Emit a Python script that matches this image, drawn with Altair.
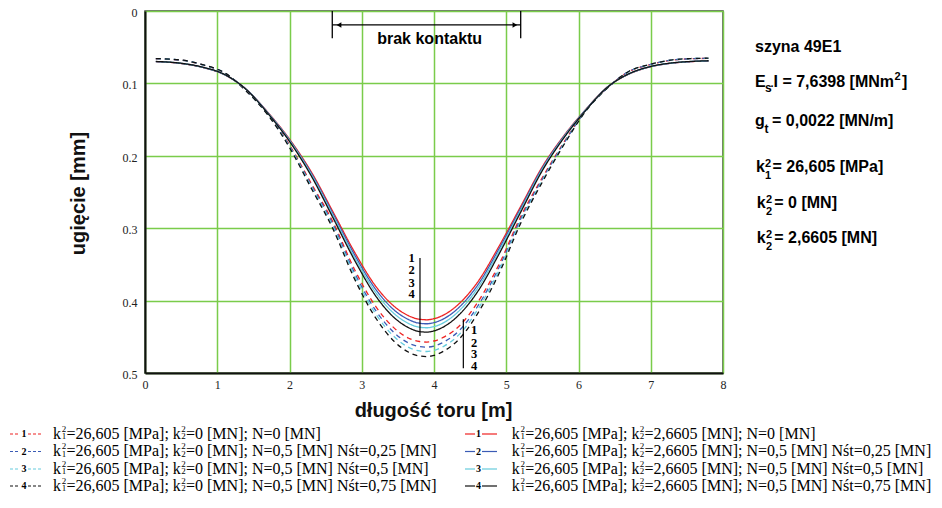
import altair as alt
import pandas as pd

# ---------------- data ----------------
x_pos = [0.15, 0.5, 0.8, 1.1, 1.4, 1.7, 2.0, 2.3, 2.6, 2.9, 3.2, 3.45, 3.65, 3.8, 3.9,
         4.0, 4.15, 4.35, 4.6, 4.9, 5.2, 5.5, 5.8, 6.1, 6.4, 6.7, 7.0, 7.3, 7.55, 7.8]

solid_1 = [0.0700, 0.0725, 0.0780, 0.0880, 0.1080, 0.1400, 0.1770, 0.2220, 0.2770, 0.3330, 0.3810, 0.4080, 0.4210, 0.4258, 0.4265,
           0.4250, 0.4190, 0.4040, 0.3750, 0.3250, 0.2700, 0.2150, 0.1720, 0.1360, 0.1050, 0.0870, 0.0770, 0.0720, 0.0700, 0.0690]
solid_2 = [0.0699, 0.0724, 0.0779, 0.0879, 0.1081, 0.1404, 0.1780, 0.2238, 0.2796, 0.3366, 0.3854, 0.4131, 0.4263, 0.4313, 0.4320,
           0.4304, 0.4243, 0.4090, 0.3793, 0.3285, 0.2725, 0.2167, 0.1729, 0.1364, 0.1051, 0.0869, 0.0769, 0.0719, 0.0699, 0.0689]
solid_3 = [0.0698, 0.0723, 0.0778, 0.0878, 0.1082, 0.1409, 0.1790, 0.2256, 0.2823, 0.3402, 0.3898, 0.4181, 0.4317, 0.4368, 0.4375,
           0.4359, 0.4296, 0.4139, 0.3836, 0.3319, 0.2751, 0.2184, 0.1739, 0.1368, 0.1052, 0.0868, 0.0768, 0.0718, 0.0698, 0.0688]
solid_4 = [0.0697, 0.0722, 0.0776, 0.0876, 0.1083, 0.1414, 0.1801, 0.2276, 0.2852, 0.3441, 0.3946, 0.4236, 0.4375, 0.4428, 0.4435,
           0.4418, 0.4353, 0.4193, 0.3883, 0.3357, 0.2778, 0.2203, 0.1749, 0.1372, 0.1053, 0.0866, 0.0766, 0.0716, 0.0697, 0.0687]
dash_1 = [0.0660, 0.0680, 0.0745, 0.0855, 0.1100, 0.1420, 0.1850, 0.2380, 0.2910, 0.3570, 0.4090, 0.4380, 0.4520, 0.4565, 0.4573,
          0.4558, 0.4497, 0.4350, 0.4030, 0.3500, 0.2840, 0.2300, 0.1810, 0.1370, 0.1060, 0.0835, 0.0738, 0.0678, 0.0660, 0.0655]
dash_2 = [0.0659, 0.0679, 0.0744, 0.0854, 0.1101, 0.1426, 0.1863, 0.2403, 0.2944, 0.3616, 0.4146, 0.4444, 0.4588, 0.4635, 0.4643,
          0.4627, 0.4564, 0.4413, 0.4085, 0.3544, 0.2872, 0.2322, 0.1822, 0.1375, 0.1061, 0.0834, 0.0737, 0.0677, 0.0659, 0.0654]
dash_3 = [0.0658, 0.0678, 0.0743, 0.0853, 0.1103, 0.1430, 0.1873, 0.2423, 0.2972, 0.3655, 0.4194, 0.4500, 0.4646, 0.4695, 0.4703,
          0.4687, 0.4622, 0.4467, 0.4131, 0.3582, 0.2900, 0.2340, 0.1832, 0.1379, 0.1063, 0.0833, 0.0736, 0.0676, 0.0658, 0.0653]
dash_4 = [0.0657, 0.0677, 0.0742, 0.0852, 0.1104, 0.1436, 0.1886, 0.2446, 0.3006, 0.3700, 0.4250, 0.4564, 0.4714, 0.4765, 0.4773,
          0.4756, 0.4689, 0.4530, 0.4186, 0.3626, 0.2932, 0.2362, 0.1844, 0.1384, 0.1064, 0.0832, 0.0735, 0.0675, 0.0657, 0.0652]

series_keys = ["d1", "d2", "d3", "d4", "s1", "s2", "s3", "s4"]
x_ticks = [0, 1, 2, 3, 4, 5, 6, 7, 8]
y_ticks = [0, 0.1, 0.2, 0.3, 0.4, 0.5]

legend_left_tail = ["=0 [MN]; N=0 [MN]",
                    "=0 [MN]; N=0,5 [MN] Nśt=0,25 [MN]",
                    "=0 [MN]; N=0,5 [MN] Nśt=0,5 [MN]",
                    "=0 [MN]; N=0,5 [MN] Nśt=0,75 [MN]"]
legend_right_tail = ["=2,6605 [MN]; N=0 [MN]",
                     "=2,6605 [MN]; N=0,5 [MN] Nśt=0,25 [MN]",
                     "=2,6605 [MN]; N=0,5 [MN] Nśt=0,5 [MN]",
                     "=2,6605 [MN]; N=0,5 [MN] Nśt=0,75 [MN]"]

# ---------------- styling ----------------
RED, BLUE, CYAN, BLACK = "#ee2222", "#3b5bb5", "#66ccdd", "#111111"
palette = [RED, BLUE, CYAN, BLACK]
SERIF = "Liberation Serif"
SANS = "Liberation Sans"

rows = []
for key, vals in zip(series_keys, [dash_1, dash_2, dash_3, dash_4, solid_1, solid_2, solid_3, solid_4]):
    for xv, yv in zip(x_pos, vals):
        rows.append({"series": key, "x": xv, "y": yv})
df = pd.DataFrame(rows)

xs = alt.Scale(domain=[0, 8], nice=False, zero=False)
ys = alt.Scale(domain=[0, 0.5], reverse=True, nice=False, zero=False)
x_axis = alt.Axis(values=x_ticks, format="d", title="długość toru [m]",
                  titleX=288, titleY=43, titleAlign="center", titleBaseline="alphabetic",
                  labelPadding=6, labelFlush=False, labelOverlap=False)
y_axis = alt.Axis(values=y_ticks, format=".1~f", title="ugięcie [mm]",
                  titleX=-67, titleY=182, titleAngle=270, titleAlign="center",
                  titleBaseline="middle", labelPadding=8, labelOffset=1.5,
                  labelFlush=False, labelOverlap=False)


def X(field="x"):
    return alt.X(f"{field}:Q", scale=xs, axis=x_axis)


def Y(field="y"):
    return alt.Y(f"{field}:Q", scale=ys, axis=y_axis)


lines = alt.Chart(df).mark_line(strokeWidth=1.3, interpolate="monotone").encode(
    x=X(), y=Y(),
    color=alt.Color("series:N", scale=alt.Scale(domain=series_keys, range=palette * 2), legend=None),
    strokeDash=alt.StrokeDash("series:N",
                              scale=alt.Scale(domain=series_keys, range=[[5, 4]] * 4 + [[1, 0]] * 4),
                              legend=None),
)

one = pd.DataFrame({"k": [0]})
layers = [lines]


def dseg(x1, y1, x2, y2, width=1.3):
    d = pd.DataFrame({"x": [x1], "y": [y1], "x2": [x2], "y2": [y2]})
    return alt.Chart(d).mark_rule(color="black", strokeWidth=width).encode(
        x=X(), y=Y(), x2="x2:Q", y2="y2:Q")


def dtext(s, x, y, size, font, bold=True, align="center", baseline="middle"):
    d = pd.DataFrame({"x": [x], "y": [y]})
    return alt.Chart(d).mark_text(text=s, fontSize=size, font=font, align=align, baseline=baseline,
                                  fontWeight="bold" if bold else "normal", color="black").encode(
        x=X(), y=Y())


def ptext(s, x, y, size, font, bold=False, align="left", baseline="alphabetic", color="black"):
    return alt.Chart(one).mark_text(text=s, fontSize=size, font=font, align=align, baseline=baseline,
                                    fontWeight="bold" if bold else "normal", color=color).encode(
        x=alt.value(x), y=alt.value(y))


def prule(x1, x2, y, color, dash=None, width=1.2):
    kw = dict(color=color, strokeWidth=width)
    if dash:
        kw["strokeDash"] = dash
    return alt.Chart(one).mark_rule(**kw).encode(x=alt.value(x1), x2=alt.value(x2), y=alt.value(y))


# "brak kontaktu" dimension annotation
layers += [dseg(2.592, 0.0, 2.592, 0.0377), dseg(5.2, 0.0, 5.2, 0.0377),
           dseg(2.592, 0.0193, 5.2, 0.0193, width=1.2)]
arrows = pd.DataFrame({"x": [2.685, 5.12], "y": [0.0193, 0.0193], "shape": ["triangle-left", "triangle-right"]})
layers.append(alt.Chart(arrows).mark_point(filled=True, size=30, color="black", opacity=1).encode(
    x=X(), y=Y(), shape=alt.Shape("shape:N", scale=None)))
layers.append(dtext("brak kontaktu", 3.94, 0.0449, 16, SANS, baseline="alphabetic"))

# curve number stacks
layers.append(dseg(3.806, 0.341, 3.806, 0.449, width=1.2))
for i, yy in enumerate([0.341, 0.358, 0.375, 0.391]):
    layers.append(dtext(str(i + 1), 3.69, yy, 12.5, SERIF))
layers.append(dseg(4.406, 0.4258, 4.406, 0.4935, width=1.2))
for i, yy in enumerate([0.440, 0.458, 0.474, 0.491]):
    layers.append(dtext(str(i + 1), 4.554, yy, 12.5, SERIF))

# right-hand parameter panel (pixel positions relative to plot origin)
layers += [
    ptext("szyna 49E1", 610, 41.3, 16, SANS, bold=True),
    ptext("E", 610, 75.7, 16, SANS, bold=True),
    ptext("s", 620, 80.5, 12, SANS, bold=True),
    ptext("·", 625.5, 79, 11, SANS, bold=True),
    ptext("I = 7,6398 [MNm", 628.5, 75.7, 16, SANS, bold=True),
    ptext("2", 749.5, 69, 11, SANS, bold=True),
    ptext("]", 757, 75.7, 16, SANS, bold=True),
    ptext("g", 610, 115, 16, SANS, bold=True),
    ptext("t", 619.5, 121.7, 12, SANS, bold=True),
    ptext("= 0,0022 [MN/m]", 627, 115, 16, SANS, bold=True),
    ptext("k", 611, 160.7, 16, SANS, bold=True),
    ptext("2", 623, 155.7, 11, SANS, bold=True, align="center"),
    ptext("1", 623, 168.3, 11, SANS, bold=True, align="center"),
    ptext("= 26,605 [MPa]", 627.5, 160.7, 16, SANS, bold=True),
    ptext("k", 611.7, 197.3, 16, SANS, bold=True),
    ptext("2", 624, 192.3, 11, SANS, bold=True, align="center"),
    ptext("2", 624, 204, 11, SANS, bold=True, align="center"),
    ptext("= 0  [MN]", 629.3, 197.3, 16, SANS, bold=True),
    ptext("k", 611.7, 232.3, 16, SANS, bold=True),
    ptext("2", 624, 227.3, 11, SANS, bold=True, align="center"),
    ptext("2", 624, 239, 11, SANS, bold=True, align="center"),
    ptext("= 2,6605 [MN]", 629.3, 232.3, 16, SANS, bold=True),
]

# bottom legend (two columns, four rows); baselines relative to plot origin
row_base = [427.5, 445, 462.5, 479.5]
for i in range(4):
    b = row_base[i]
    mid = b - 4.5
    c = palette[i]
    # left column: dashed samples
    layers += [
        prule(-135, -125, mid, c, dash=[3, 2]),
        ptext(str(i + 1), -121, mid, 10, SERIF, bold=True, align="center", baseline="middle"),
        prule(-117, -102, mid, c, dash=[3, 2]),
        ptext("k", -92, b, 16, SERIF),
        ptext("2", -81, b - 7, 9, SERIF, align="center"),
        ptext("1", -81, b + 0.5, 9, SERIF, align="center"),
        ptext("=26,605 [MPa]; k", -78.5, b, 16, SERIF),
        ptext("2", 38.4, b - 7, 9, SERIF, align="center"),
        ptext("2", 38.4, b + 0.5, 9, SERIF, align="center"),
        ptext(legend_left_tail[i], 41, b, 16, SERIF),
    ]
    # right column: solid samples
    layers += [
        prule(320, 330, mid, c),
        ptext(str(i + 1), 333.5, mid, 10, SERIF, bold=True, align="center", baseline="middle"),
        prule(337, 352, mid, c),
        ptext("k", 366.7, b, 16, SERIF),
        ptext("2", 377.7, b - 7, 9, SERIF, align="center"),
        ptext("1", 377.7, b + 0.5, 9, SERIF, align="center"),
        ptext("=26,605 [MPa]; k", 380.2, b, 16, SERIF),
        ptext("2", 497.1, b - 7, 9, SERIF, align="center"),
        ptext("2", 497.1, b + 0.5, 9, SERIF, align="center"),
        ptext(legend_right_tail[i], 499.6, b, 16, SERIF),
    ]

chart = alt.layer(*layers).properties(
    width=578, height=362,
    autosize=alt.AutoSizeParams(type="none"),
    padding={"left": 137, "top": 3, "right": 209, "bottom": 121},
    background="white",
).configure_view(
    stroke="#444444", strokeWidth=1.5
).configure_axis(
    grid=True, gridColor="#7acc4a", gridWidth=1.5, gridOpacity=1,
    domainColor="#111111", domainWidth=2, ticks=False, tickSize=0,
    labelFont=SERIF, labelFontSize=12, labelColor="#222222",
    titleFont=SANS, titleFontSize=20, titleFontWeight="bold", titleColor="#111111",
)

chart.save("out.html", embed_options={"renderer": "svg", "actions": False})
